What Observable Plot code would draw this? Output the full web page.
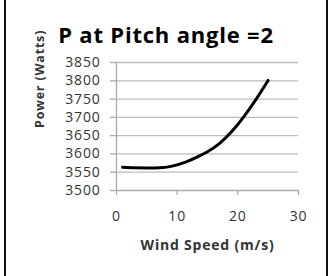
<!DOCTYPE html>
<html><head><meta charset="utf-8">
<script src="https://cdn.jsdelivr.net/npm/d3@7"></script>
<script src="https://cdn.jsdelivr.net/npm/@observablehq/plot@0.6"></script>
<style>
html,body{margin:0;padding:0;background:#fff;}
#wrap{position:relative;width:332px;height:276px;overflow:hidden;}
.edge{position:absolute;top:0;width:2px;height:276px;background:#111;}
#wrap svg text{letter-spacing:0.8px;}
</style></head><body>
<div id="wrap"><div class="edge" style="left:3.5px"></div><div class="edge" style="left:325.5px"></div></div>
<script>
const windSpeed = [1, 3, 5, 7, 9, 11, 13, 15, 17, 19, 21, 23, 25];
const power = [3563.5, 3562, 3561.5, 3562, 3566, 3575.5, 3589.5, 3606, 3629, 3661, 3702, 3749, 3801];
const xTicks = [0, 10, 20, 30];
const yTicks = [3500, 3550, 3600, 3650, 3700, 3750, 3800, 3850];
const title = "P at Pitch angle =2";
const xTitle = "Wind Speed (m/s)";
const yTitle = "Power (Watts)";

const data = windSpeed.map((v, i) => ({v, p: power[i]}));

const chart = Plot.plot({
  width: 332, height: 276,
  marginLeft: 116, marginRight: 34, marginTop: 62, marginBottom: 86,
  style: {fontFamily: "'Open Sans', sans-serif", fontSize: "14px", color: "#333", background: "transparent", overflow: "visible"},
  x: {domain: [0, 30]},
  y: {domain: [3500, 3850]},
  marks: [
    Plot.gridY(yTicks.slice(1), {stroke: "#bcbcbc", strokeOpacity: 1, strokeWidth: 1.3}),
    Plot.ruleY([3500], {stroke: "#aaa", strokeWidth: 1.3}),
    Plot.ruleX([0], {y1: 3500, y2: 3850, stroke: "#aaa", strokeWidth: 1.3}),
    Plot.axisY(yTicks, {tickSize: 6, tickPadding: 10, stroke: "#aaa", strokeWidth: 1.3, label: null, tickFormat: d3.format("d")}),
    Plot.axisX(xTicks, {tickSize: 5, tickPadding: 16, stroke: "#aaa", strokeWidth: 1.3, label: null, tickFormat: d3.format("d")}),
    Plot.line(data, {x: "v", y: "p", curve: "natural", stroke: "#000", strokeWidth: 3}),
    Plot.text([title], {text: d => d, frameAnchor: "top", dx: -41.5, dy: -35, fontSize: 22, fontWeight: "bold", fill: "#000"}),
    Plot.text([xTitle], {text: d => d, frameAnchor: "bottom", dy: 59, fontSize: 14, fontWeight: "bold", fill: "#333"}),
    Plot.text([yTitle], {text: d => d, frameAnchor: "left", dx: -77, dy: 1.5, rotate: -90, fontSize: 12.5, fontWeight: "bold", fill: "#333"})
  ]
});
document.getElementById("wrap").appendChild(chart);
</script>
</body></html>
